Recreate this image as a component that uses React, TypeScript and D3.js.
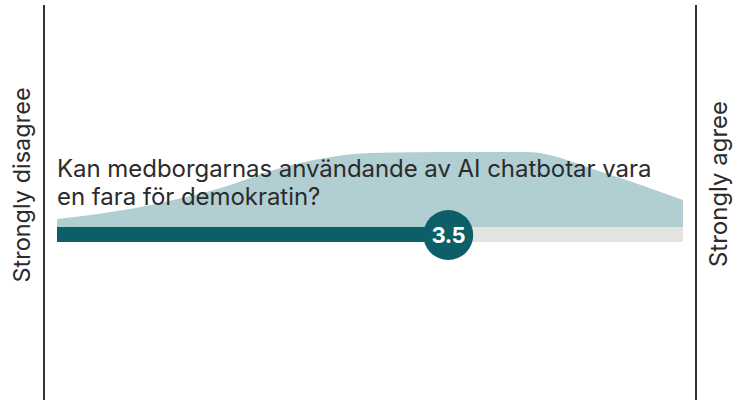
import React from "react";
import * as d3 from "d3";

const scaleValues = [1, 1.5, 2, 2.5, 3, 3.5, 4, 4.5, 5];
const distribution = [9, 20, 38, 63, 75, 76, 76, 55, 28];
const questionLines = ["Kan medborgarnas användande av AI chatbotar vara", "en fara för demokratin?"];
const meanValue = [3.5];
const endLabels = ["Strongly disagree", "Strongly agree"];

const W = 736;
const H = 403;

export default function App() {
  const x = d3.scaleLinear().domain([1, 5]).range([57, 683]);
  const baseY = 228;
  const y = d3.scaleLinear().domain([0, 76]).range([baseY, 152]);
  const area = d3
    .area<number>()
    .x((_, i) => x(scaleValues[i]))
    .y0(baseY)
    .y1((d) => y(d))
    .curve(d3.curveMonotoneX);
  const mean = meanValue[0];
  const font = "Inter, 'Noto Sans', sans-serif";
  return (
    <svg
      width={W}
      height={H}
      style={{ position: "absolute", left: 0, top: 0, background: "#fff" }}
    >
      <path d={area(distribution) || ""} fill="#b1cfd3" />
      <rect x={x(1)} y={227} width={x(5) - x(1)} height={15} fill="#e4e4e3" />
      <rect x={x(1)} y={227} width={x(mean) - x(1)} height={15} fill="#0c5f67" />
      <line x1={44} x2={44} y1={5} y2={400} stroke="#333" strokeWidth={2} />
      <line x1={696} x2={696} y1={5} y2={400} stroke="#333" strokeWidth={2} />
      {questionLines.map((t, i) => (
        <text
          key={i}
          x={57}
          y={177 + i * 28}
          fontFamily={font}
          fontSize={24}
          letterSpacing={-0.05}
          fill="#2b2b2b"
        >
          {t}
        </text>
      ))}
      <circle cx={x(mean)} cy={235} r={25} fill="#0c5f67" />
      <text
        x={x(mean)}
        y={243}
        textAnchor="middle"
        fontFamily={font}
        fontSize={22}
        fontWeight={700}
        letterSpacing={-0.5}
        fill="#fff"
      >
        {mean.toFixed(1)}
      </text>
      <text
        transform={`translate(30,185) rotate(-90)`}
        textAnchor="middle"
        fontFamily={font}
        fontSize={23.5}
        fill="#2b2b2b"
      >
        {endLabels[0]}
      </text>
      <text
        transform={`translate(727,184) rotate(-90)`}
        textAnchor="middle"
        fontFamily={font}
        fontSize={24}
        fill="#2b2b2b"
      >
        {endLabels[1]}
      </text>
    </svg>
  );
}
